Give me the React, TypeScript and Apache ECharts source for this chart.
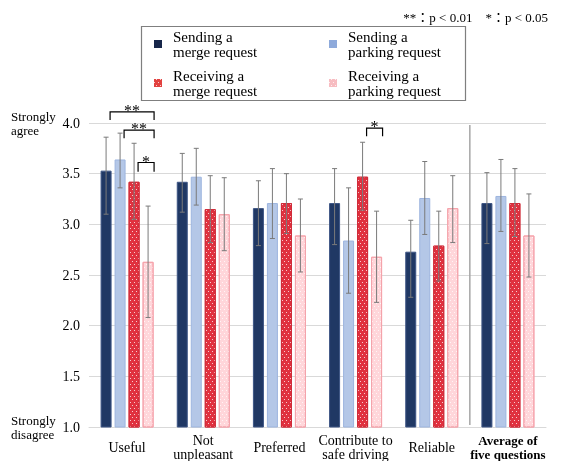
import React, { useEffect, useRef } from 'react';
import * as echarts from 'echarts';

const categories = ['Useful', 'Not\nunpleasant', 'Preferred', 'Contribute to\nsafe driving', 'Reliable', 'Average of\nfive questions'];
const seriesNames = ['Sending a\nmerge request', 'Sending a\nparking request', 'Receiving a\nmerge request', 'Receiving a\nparking request'];

const sendMerge = [3.53, 3.42, 3.16, 3.21, 2.73, 3.21];
const sendMergeLow = [3.10, 3.12, 2.79, 2.80, 2.28, 2.81];
const sendMergeHigh = [3.86, 3.70, 3.43, 3.55, 3.04, 3.51];

const sendPark = [3.64, 3.47, 3.21, 2.84, 3.26, 3.28];
const sendParkLow = [3.36, 3.19, 2.86, 2.32, 2.90, 2.93];
const sendParkHigh = [3.90, 3.75, 3.55, 3.36, 3.62, 3.64];

const recvMerge = [3.42, 3.15, 3.21, 3.47, 2.79, 3.21];
const recvMergeLow = [3.05, 2.82, 2.91, 3.14, 2.44, 2.88];
const recvMergeHigh = [3.80, 3.48, 3.50, 3.81, 3.13, 3.55];

const recvPark = [2.63, 3.10, 2.89, 2.68, 3.16, 2.89];
const recvParkLow = [2.08, 2.74, 2.53, 2.23, 2.82, 2.48];
const recvParkHigh = [3.18, 3.46, 3.25, 3.13, 3.48, 3.30];

const yTicks = [1.0, 1.5, 2.0, 2.5, 3.0, 3.5, 4.0];

// significance brackets: category index, from bar, to bar, top value, leg value
const bracketCats = [0, 0, 0, 3];
const bracketFrom = [0, 1, 2, 2];
const bracketTo = [3, 3, 3, 3];
const bracketTop = [4.11, 3.93, 3.61, 3.95];
const bracketLeg = [4.03, 3.85, 3.52, 3.87];
const bracketLabels = ['**', '**', '*', '*'];

// separator drawn after this category (between "Reliable" and the average)
const separatorAfter = [4];

const FONT = '"Liberation Serif", "Times New Roman", serif';
const BAR_W = 11;
const BAR_GAP = 3;

const values = [sendMerge, sendPark, recvMerge, recvPark];
const lows = [sendMergeLow, sendParkLow, recvMergeLow, recvParkLow];
const highs = [sendMergeHigh, sendParkHigh, recvMergeHigh, recvParkHigh];

const barOffset = (s: number) => (s - 1.5) * (BAR_W + BAR_GAP);

const dotDecal = {
  symbol: 'rect',
  symbolSize: 1,
  color: 'rgba(255,255,255,0.75)',
  dashArrayX: [[1, 3], [0, 2, 1, 1]],
  dashArrayY: [1, 2],
  rotation: 0,
};

const barStyles = [
  { color: '#203864', borderColor: '#3d5585', borderWidth: 1 },
  { color: '#b4c7e7', borderColor: '#9db5df', borderWidth: 1 },
  { color: '#e0313f', borderColor: '#d02c3a', borderWidth: 1, decal: dotDecal },
  { color: '#ffd6da', borderColor: '#f5a3ab', borderWidth: 1, decal: dotDecal },
];
const legendColors = ['#17264a', '#8eaadb', '#e2413f', '#f7bcc1'];

export default function App() {
  const ref = useRef<HTMLDivElement>(null);
  useEffect(() => {
    const chart = echarts.init(ref.current!, null, { renderer: 'svg' });

    const errData: number[][] = [];
    for (let s = 0; s < 4; s++) {
      for (let c = 0; c < categories.length; c++) {
        errData.push([c, s, lows[s][c], highs[s][c]]);
      }
    }
    const bracketData = bracketCats.map((c, i) => [c, bracketFrom[i], bracketTo[i], bracketTop[i], bracketLeg[i]]);

    const legendBase = {
      orient: 'vertical',
      top: 29,
      padding: 0,
      itemWidth: 8,
      itemHeight: 8,
      itemGap: 9,
      icon: 'rect',
      selectedMode: false,
      textStyle: { fontFamily: FONT, fontSize: 15, lineHeight: 15, color: '#000', padding: [0, 0, 0, 6] },
    };

    const option: any = {
      animation: false,
      textStyle: { fontFamily: FONT },
      grid: { left: 89, right: 15, top: 123, bottom: 30 },
      legend: [
        {
          ...legendBase,
          left: 154,
          data: [0, 2].map((i) => ({ name: seriesNames[i], itemStyle: { color: legendColors[i], borderWidth: 0 } })),
        },
        {
          ...legendBase,
          left: 329,
          data: [1, 3].map((i) => ({ name: seriesNames[i], itemStyle: { color: legendColors[i], borderWidth: 0 } })),
        },
      ],
      xAxis: {
        type: 'category',
        data: categories,
        axisLine: { show: true, lineStyle: { color: '#d9d9d9', width: 1 } },
        axisTick: { show: false },
        splitLine: { show: false },
        axisLabel: {
          fontFamily: FONT,
          fontSize: 14,
          lineHeight: 14,
          color: '#000',
          margin: 20,
          verticalAlign: 'middle',
          interval: 0,
          formatter: (v: string) =>
            v.startsWith('Average') ? v.split('\n').map((l) => `{b|${l}}`).join('\n') : v,
          rich: {
            b: { fontFamily: FONT, fontWeight: 'bold', fontSize: 13, lineHeight: 14, color: '#000' },
          },
        },
      },
      yAxis: [
        {
          type: 'value',
          min: 1,
          max: 4,
          interval: 0.5,
          axisLine: { show: false },
          axisTick: { show: false },
          splitLine: { show: true, lineStyle: { color: '#d9d9d9', width: 1 } },
          axisLabel: {
            fontFamily: FONT,
            fontSize: 14,
            color: '#000',
            margin: 9,
            formatter: (v: number) => (yTicks.includes(v) ? v.toFixed(1) : ''),
          },
        },
        {
          type: 'value',
          min: 1,
          max: 4,
          interval: 0.5,
          position: 'left',
          axisLine: { show: false },
          axisTick: { show: false },
          splitLine: { show: false },
          axisLabel: {
            fontFamily: FONT,
            fontSize: 13,
            lineHeight: 14,
            color: '#000',
            align: 'left',
            margin: 78,
            formatter: (v: number) => (v === 4 ? 'Strongly\nagree' : v === 1 ? 'Strongly\ndisagree' : ''),
          },
        },
      ],
      series: [
        ...values.map((vals, s) => ({
          type: 'bar',
          name: seriesNames[s],
          data: vals,
          barWidth: BAR_W,
          barGap: `${(BAR_GAP / BAR_W) * 100}%`,
          itemStyle: barStyles[s],
          z: 2,
        })),
        {
          type: 'custom',
          name: 'separator',
          data: separatorAfter.map((c) => [c, 4, 1]),
          z: 1,
          silent: true,
          renderItem: (params: any, api: any) => {
            const c = api.value(0);
            const top = api.coord([c, api.value(1)]);
            const bottom = api.coord([c, api.value(2)]);
            const half = api.size([1, 0])[0] / 2;
            const x = top[0] + half;
            return {
              type: 'line',
              shape: { x1: x, y1: top[1] + 2, x2: x, y2: bottom[1] - 2 },
              style: { stroke: '#a6a6a6', lineWidth: 1.5 },
            };
          },
        },
        {
          type: 'custom',
          name: 'errors',
          data: errData,
          z: 5,
          silent: true,
          renderItem: (params: any, api: any) => {
            const c = api.value(0);
            const s = api.value(1);
            const lo = api.coord([c, api.value(2)]);
            const hi = api.coord([c, api.value(3)]);
            const x = lo[0] + barOffset(s);
            const cap = 2.5;
            const style = { stroke: '#7a7a7a', lineWidth: 1, fill: 'none' };
            return {
              type: 'group',
              children: [
                { type: 'line', shape: { x1: x, y1: hi[1], x2: x, y2: lo[1] }, style },
                { type: 'line', shape: { x1: x - cap, y1: hi[1], x2: x + cap, y2: hi[1] }, style },
                { type: 'line', shape: { x1: x - cap, y1: lo[1], x2: x + cap, y2: lo[1] }, style },
              ],
            };
          },
        },
        {
          type: 'custom',
          name: 'brackets',
          data: bracketData,
          z: 6,
          silent: true,
          clip: false,
          renderItem: (params: any, api: any) => {
            const c = api.value(0);
            const f = api.value(1);
            const t = api.value(2);
            const top = api.coord([c, api.value(3)]);
            const leg = api.coord([c, api.value(4)]);
            const x1 = top[0] + barOffset(f) + 4;
            const x2 = top[0] + barOffset(t) + 6;
            return {
              type: 'group',
              children: [
                {
                  type: 'polyline',
                  shape: { points: [[x1, leg[1]], [x1, top[1]], [x2, top[1]], [x2, leg[1]]] },
                  style: { stroke: '#000', lineWidth: 1.2, fill: 'none' },
                },
                {
                  type: 'text',
                  x: (x1 + x2) / 2,
                  y: top[1] - 1.5,
                  style: {
                    text: bracketLabels[params.dataIndex],
                    fontFamily: FONT,
                    fontSize: 16,
                    fill: '#000',
                    align: 'center',
                    verticalAlign: 'middle',
                  },
                },
              ],
            };
          },
        },
      ],
      graphic: [
        {
          type: 'rect',
          shape: { x: 141.5, y: 26.5, width: 324, height: 74 },
          style: { fill: 'none', stroke: '#7f7f7f', lineWidth: 1.2 },
          silent: true,
        },
        {
          type: 'text',
          x: 548,
          y: 17,
          style: {
            text: '**：p < 0.01    *：p < 0.05',
            fontFamily: '"Liberation Serif", "Noto Sans CJK JP", serif',
            fontSize: 13,
            fill: '#000',
            align: 'right',
            verticalAlign: 'middle',
          },
          silent: true,
        },
      ],
    };
    chart.setOption(option);
    return () => chart.dispose();
  }, []);
  return <div ref={ref} style={{ position: 'fixed', left: 0, top: 0, width: 561, height: 461 }} />;
}
